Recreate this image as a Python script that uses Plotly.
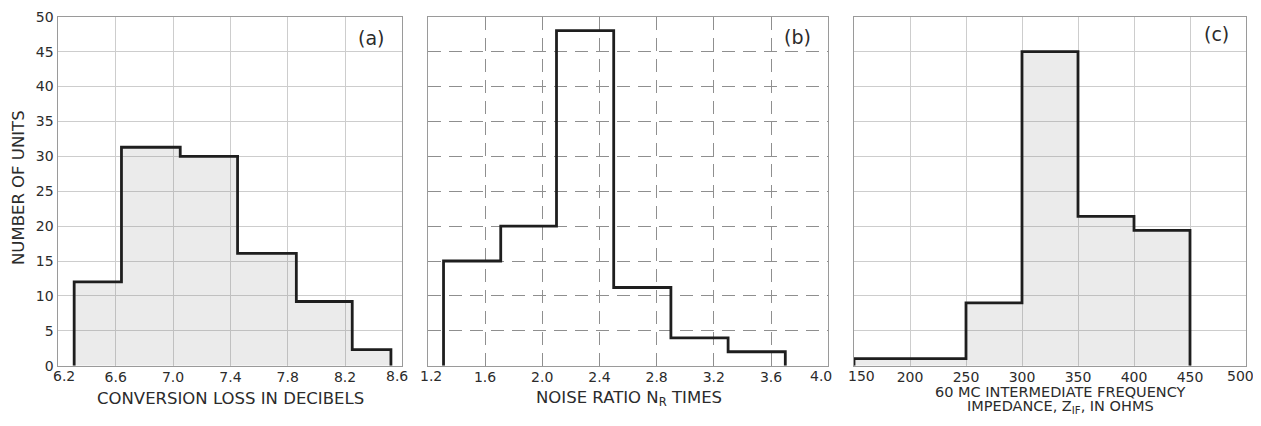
import plotly.graph_objects as go

# ---- data ----
a_edges = [6.31, 6.64, 7.05, 7.45, 7.86, 8.25, 8.52]
a_counts = [12, 31.3, 30, 16.1, 9.2, 2.3]

b_edges = [1.31, 1.71, 2.1, 2.5, 2.9, 3.3, 3.7]
b_counts = [15, 20, 48, 11.2, 4, 2]

c_edges = [150, 250, 300, 350, 400, 450]
c_counts = [1, 9, 45, 21.4, 19.4]

a_ticks = [6.2, 6.6, 7.0, 7.4, 7.8, 8.2, 8.6]
b_ticks = [1.2, 1.6, 2.0, 2.4, 2.8, 3.2, 3.6, 4.0]
c_ticks = [150, 200, 250, 300, 350, 400, 450, 500]
y_ticks = list(range(0, 55, 5))

panel_labels = ["(a)", "(b)", "(c)"]
a_title = "CONVERSION LOSS IN DECIBELS"
b_title = "NOISE RATIO N<sub>R</sub> TIMES"
c_title_lines = ["60 MC INTERMEDIATE FREQUENCY", "IMPEDANCE, Z<sub>IF</sub>, IN OHMS"]
y_title = "NUMBER OF UNITS"

# the page body has an 8px margin on every side; keep the figure inside the window
OFF = 8
W, H = 1261 - 2 * OFF, 426 - 2 * OFF
FONT = "DejaVu Sans"
INK = "#2b2b2b"


def px(x):
    return (x - OFF) / W


def py(y):
    return 1 - (y - OFF) / H


def outline(edges, counts):
    xs = [edges[0]] + list(edges) + [edges[-1]]
    ys = [0] + list(counts) + [counts[-1], 0]
    return xs, ys


fig = go.Figure()

panels = [
    (a_edges, a_counts, "rgba(120,120,120,0.15)"),
    (b_edges, b_counts, "rgba(255,255,255,0)"),
    (c_edges, c_counts, "rgba(120,120,120,0.15)"),
]
for i, (e, c, fc) in enumerate(panels):
    xs, ys = outline(e, c)
    sfx = "" if i == 0 else str(i + 1)
    fig.add_trace(go.Scatter(
        x=xs, y=ys, mode="lines", line_shape="hv",
        line=dict(color="#1e1e1e", width=2.8),
        fill="tozeroy", fillcolor=fc,
        xaxis="x" + sfx, yaxis="y" + sfx, showlegend=False,
        hoverinfo="skip",
    ))

x_domains = [[px(58.4), px(402.4)], [px(427.8), px(828.2)], [px(854), px(1246)]]
y_domain = [py(365.7), py(16.7)]
x_ranges = [[6.2, 8.6], [1.2, 4.0], [150, 500]]
all_ticks = [a_ticks, b_ticks, c_ticks]
fmt = [lambda t: "%.1f" % t, lambda t: "%.1f" % t, lambda t: str(t)]
# inward shift (px) of the first / last tick label of every panel
edge_shift = [(6, -5), (3, -7), (7, -6)]
grid_styles = [("#cdcdcd", "solid"), ("#8f8f8f", "13px,8px"), ("#cdcdcd", "solid")]
TICK_Y = 376

layout = dict(
    width=W, height=H,
    margin=dict(l=0, r=0, t=0, b=0),
    paper_bgcolor="white", plot_bgcolor="white",
    font=dict(family=FONT, size=14, color=INK),
    showlegend=False,
)
annotations = []
for i in range(3):
    sfx = "" if i == 0 else str(i + 1)
    gc, gd = grid_styles[i]
    inner = all_ticks[i][1:-1]
    layout["xaxis" + sfx] = dict(
        domain=x_domains[i], range=x_ranges[i], anchor="y" + sfx,
        tickmode="array", tickvals=inner, ticktext=[fmt[i](t) for t in inner],
        showgrid=True, gridcolor=gc, griddash=gd, gridwidth=1,
        showline=True, mirror=True, linecolor="#9a9a9a", linewidth=1,
        zeroline=False, ticks="", ticklabelstandoff=-2, automargin=False,
        tickfont=dict(family=FONT, size=14, color=INK),
    )
    layout["yaxis" + sfx] = dict(
        domain=y_domain, range=[0, 50], anchor="x" + sfx,
        tickmode="array", tickvals=y_ticks,
        showticklabels=(i == 0),
        showgrid=True, gridcolor=gc, griddash=gd, gridwidth=1,
        showline=True, mirror=True, linecolor="#9a9a9a", linewidth=1,
        zeroline=False, ticks="", ticklabelstandoff=1, automargin=False,
        tickfont=dict(family=FONT, size=14, color=INK),
    )
    for t, sh in zip((all_ticks[i][0], all_ticks[i][-1]), edge_shift[i]):
        annotations.append(dict(text=fmt[i](t), x=t, xref="x" + sfx, y=py(TICK_Y), yref="paper",
                                xshift=sh, showarrow=False, xanchor="center", yanchor="middle",
                                font=dict(family=FONT, size=14, color=INK)))

label_pos = [(371, 38), (797, 37), (1216, 34)]
for lab, (x, y) in zip(panel_labels, label_pos):
    annotations.append(dict(text=lab, x=px(x), y=py(y), xref="paper", yref="paper",
                            showarrow=False, xanchor="center", yanchor="middle",
                            font=dict(family=FONT, size=19, color=INK)))
titles = [
    (a_title, 230, 398, 16.5),
    (b_title, 629, 398, 16.5),
    (c_title_lines[0], 1060, 392, 14.5),
    (c_title_lines[1], 1060, 407, 14.5),
]
for t, x, y, s in titles:
    annotations.append(dict(text=t, x=px(x), y=py(y), xref="paper", yref="paper",
                            showarrow=False, xanchor="center", yanchor="middle",
                            font=dict(family=FONT, size=s, color=INK)))
annotations.append(dict(text=y_title, x=px(19), y=py(188), xref="paper", yref="paper",
                        showarrow=False, textangle=-90, xanchor="center", yanchor="middle",
                        font=dict(family=FONT, size=16.5, color=INK)))
layout["annotations"] = annotations

fig.update_layout(**layout)
fig.write_html("out.html")
